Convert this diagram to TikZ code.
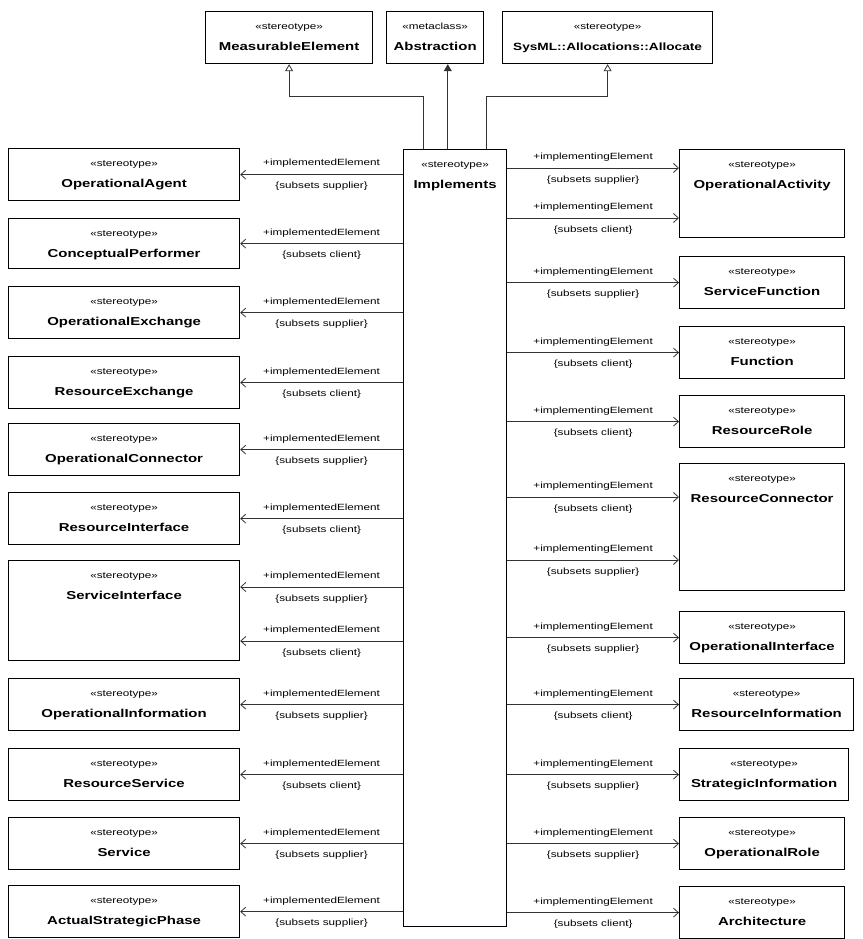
\documentclass[tikz,border=0pt]{standalone}
\usepackage{fontspec}
\setmainfont{Liberation Sans}[FakeStretch=1.3]
\usetikzlibrary{arrows.meta, calc}

\newcommand{\stereo}[2][stereotype]{{\fontsize{9}{10}\selectfont «#1»}\\[9pt]{\fontsize{11.5}{12}\selectfont\bfseries #2}}

\tikzset{
  cls/.style={draw, line width=1.2pt, anchor=north west, minimum height=52pt, inner sep=0pt},
  lbox/.style={cls, minimum width=231pt},
  rbox/.style={cls, minimum width=165pt},
  nm/.style={anchor=north, align=center, inner sep=0pt, label distance=-12pt},
  dep/.style={draw=black!80, line width=0.8pt, -{Straight Barb[length=5pt, width=9pt]}},
  gen/.style={draw=black!80, line width=0.8pt, -{Triangle[open, length=7pt, width=8pt]}},
  ext/.style={draw=black!80, line width=0.8pt, -{Triangle[length=7pt, width=8pt]}},
  role/.style={font=\fontsize{9}{10}\selectfont, midway, above=3pt},
  sub/.style={font=\fontsize{9}{10}\selectfont, midway, below=4pt}
}

\begin{document}
\begin{tikzpicture}[x=1pt, y=-1pt]
\useasboundingbox (0,0) rectangle (862,939);

\node[cls, minimum width=167pt, label={[nm]north:\stereo{MeasurableElement}}] (meas) at (205,11) {};
\node[cls, minimum width=97pt, label={[nm]north:\stereo[metaclass]{Abstraction}}] (abstr) at (386,11) {};
\node[cls, minimum width=210pt, label={[nm]north:{{\fontsize{9}{10}\selectfont «stereotype»}\\[9pt]{\fontsize{10.5}{12}\selectfont\bfseries SysML::Allocations::Allocate}}}] (alloc) at (502,11) {};

\node[cls, minimum width=103pt, minimum height=777pt, label={[nm]north:\stereo{Implements}}] (impl) at (403,149) {};

\node[lbox, label={[nm]north:\stereo{OperationalAgent}}] (opagent) at (8,148) {};
\node[lbox, minimum height=50pt, label={[nm]north:\stereo{ConceptualPerformer}}] (cperf) at (8,218) {};
\node[lbox, label={[nm]north:\stereo{OperationalExchange}}] (opexch) at (8,286) {};
\node[lbox, label={[nm]north:\stereo{ResourceExchange}}] (resexch) at (8,356) {};
\node[lbox, label={[nm]north:\stereo{OperationalConnector}}] (opconn) at (8,423) {};
\node[lbox, label={[nm]north:\stereo{ResourceInterface}}] (resif) at (8,492) {};
\node[lbox, minimum height=100pt, label={[nm]north:\stereo{ServiceInterface}}] (svcif) at (8,560) {};
\node[lbox, label={[nm]north:\stereo{OperationalInformation}}] (opinfo) at (8,678) {};
\node[lbox, label={[nm]north:\stereo{ResourceService}}] (ressvc) at (8,748) {};
\node[lbox, label={[nm]north:\stereo{Service}}] (svc) at (8,817) {};
\node[lbox, label={[nm]north:\stereo{ActualStrategicPhase}}] (actphase) at (8,885) {};

\node[rbox, minimum height=88pt, label={[nm]north:\stereo{OperationalActivity}}] (opact) at (679,149) {};
\node[rbox, label={[nm]north:\stereo{ServiceFunction}}] (svcfn) at (679,256) {};
\node[rbox, label={[nm]north:\stereo{Function}}] (func) at (679,326) {};
\node[rbox, label={[nm]north:\stereo{ResourceRole}}] (resrole) at (679,395) {};
\node[rbox, minimum height=127pt, label={[nm]north:\stereo{ResourceConnector}}] (resconn) at (679,463) {};
\node[rbox, label={[nm]north:\stereo{OperationalInterface}}] (opif) at (679,611) {};
\node[rbox, minimum width=174pt, label={[nm]north:\stereo{ResourceInformation}}] (resinfo) at (679,678) {};
\node[rbox, minimum width=169pt, label={[nm]north:\stereo{StrategicInformation}}] (strinfo) at (679,748) {};
\node[rbox, label={[nm]north:\stereo{OperationalRole}}] (oprole) at (679,817) {};
\node[rbox, label={[nm]north:\stereo{Architecture}}] (arch) at (679,886) {};

\coordinate (si1) at ($(svcif.north east)+(0,27)$);
\coordinate (si2) at ($(svcif.north east)+(0,81)$);
\coordinate (oa1) at ($(opact.north west)+(0,19)$);
\coordinate (oa2) at ($(opact.north west)+(0,69)$);
\coordinate (rc1) at ($(resconn.north west)+(0,34)$);
\coordinate (rc2) at ($(resconn.north west)+(0,97)$);
\coordinate (im1) at ($(impl.north west)!0.2!(impl.north east)$);
\coordinate (im2) at ($(impl.north west)!0.43!(impl.north east)$);
\coordinate (im3) at ($(impl.north west)!0.8!(impl.north east)$);

\draw[gen] (im1) -- ++(0,-53) -| (meas.south);
\draw[ext] (im2) -- (im2 |- abstr.south);
\draw[gen] (im3) -- ++(0,-53) -| (alloc.south);

\draw[dep] (impl.west |- opagent.east) -- node[role]{+implementedElement} node[sub]{\{subsets supplier\}} (opagent.east);
\draw[dep] (impl.west |- cperf.east) -- node[role]{+implementedElement} node[sub]{\{subsets client\}} (cperf.east);
\draw[dep] (impl.west |- opexch.east) -- node[role]{+implementedElement} node[sub]{\{subsets supplier\}} (opexch.east);
\draw[dep] (impl.west |- resexch.east) -- node[role]{+implementedElement} node[sub]{\{subsets client\}} (resexch.east);
\draw[dep] (impl.west |- opconn.east) -- node[role]{+implementedElement} node[sub]{\{subsets supplier\}} (opconn.east);
\draw[dep] (impl.west |- resif.east) -- node[role]{+implementedElement} node[sub]{\{subsets client\}} (resif.east);
\draw[dep] (impl.west |- si1) -- node[role]{+implementedElement} node[sub]{\{subsets supplier\}} (si1);
\draw[dep] (impl.west |- si2) -- node[role]{+implementedElement} node[sub]{\{subsets client\}} (si2);
\draw[dep] (impl.west |- opinfo.east) -- node[role]{+implementedElement} node[sub]{\{subsets supplier\}} (opinfo.east);
\draw[dep] (impl.west |- ressvc.east) -- node[role]{+implementedElement} node[sub]{\{subsets client\}} (ressvc.east);
\draw[dep] (impl.west |- svc.east) -- node[role]{+implementedElement} node[sub]{\{subsets supplier\}} (svc.east);
\draw[dep] (impl.west |- actphase.east) -- node[role]{+implementedElement} node[sub]{\{subsets supplier\}} (actphase.east);

\draw[dep] (impl.east |- oa1) -- node[role]{+implementingElement} node[sub]{\{subsets supplier\}} (oa1);
\draw[dep] (impl.east |- oa2) -- node[role]{+implementingElement} node[sub]{\{subsets client\}} (oa2);
\draw[dep] (impl.east |- svcfn.west) -- node[role]{+implementingElement} node[sub]{\{subsets supplier\}} (svcfn.west);
\draw[dep] (impl.east |- func.west) -- node[role]{+implementingElement} node[sub]{\{subsets client\}} (func.west);
\draw[dep] (impl.east |- resrole.west) -- node[role]{+implementingElement} node[sub]{\{subsets client\}} (resrole.west);
\draw[dep] (impl.east |- rc1) -- node[role]{+implementingElement} node[sub]{\{subsets client\}} (rc1);
\draw[dep] (impl.east |- rc2) -- node[role]{+implementingElement} node[sub]{\{subsets supplier\}} (rc2);
\draw[dep] (impl.east |- opif.west) -- node[role]{+implementingElement} node[sub]{\{subsets supplier\}} (opif.west);
\draw[dep] (impl.east |- resinfo.west) -- node[role]{+implementingElement} node[sub]{\{subsets client\}} (resinfo.west);
\draw[dep] (impl.east |- strinfo.west) -- node[role]{+implementingElement} node[sub]{\{subsets supplier\}} (strinfo.west);
\draw[dep] (impl.east |- oprole.west) -- node[role]{+implementingElement} node[sub]{\{subsets supplier\}} (oprole.west);
\draw[dep] (impl.east |- arch.west) -- node[role]{+implementingElement} node[sub]{\{subsets client\}} (arch.west);
\end{tikzpicture}
\end{document}
